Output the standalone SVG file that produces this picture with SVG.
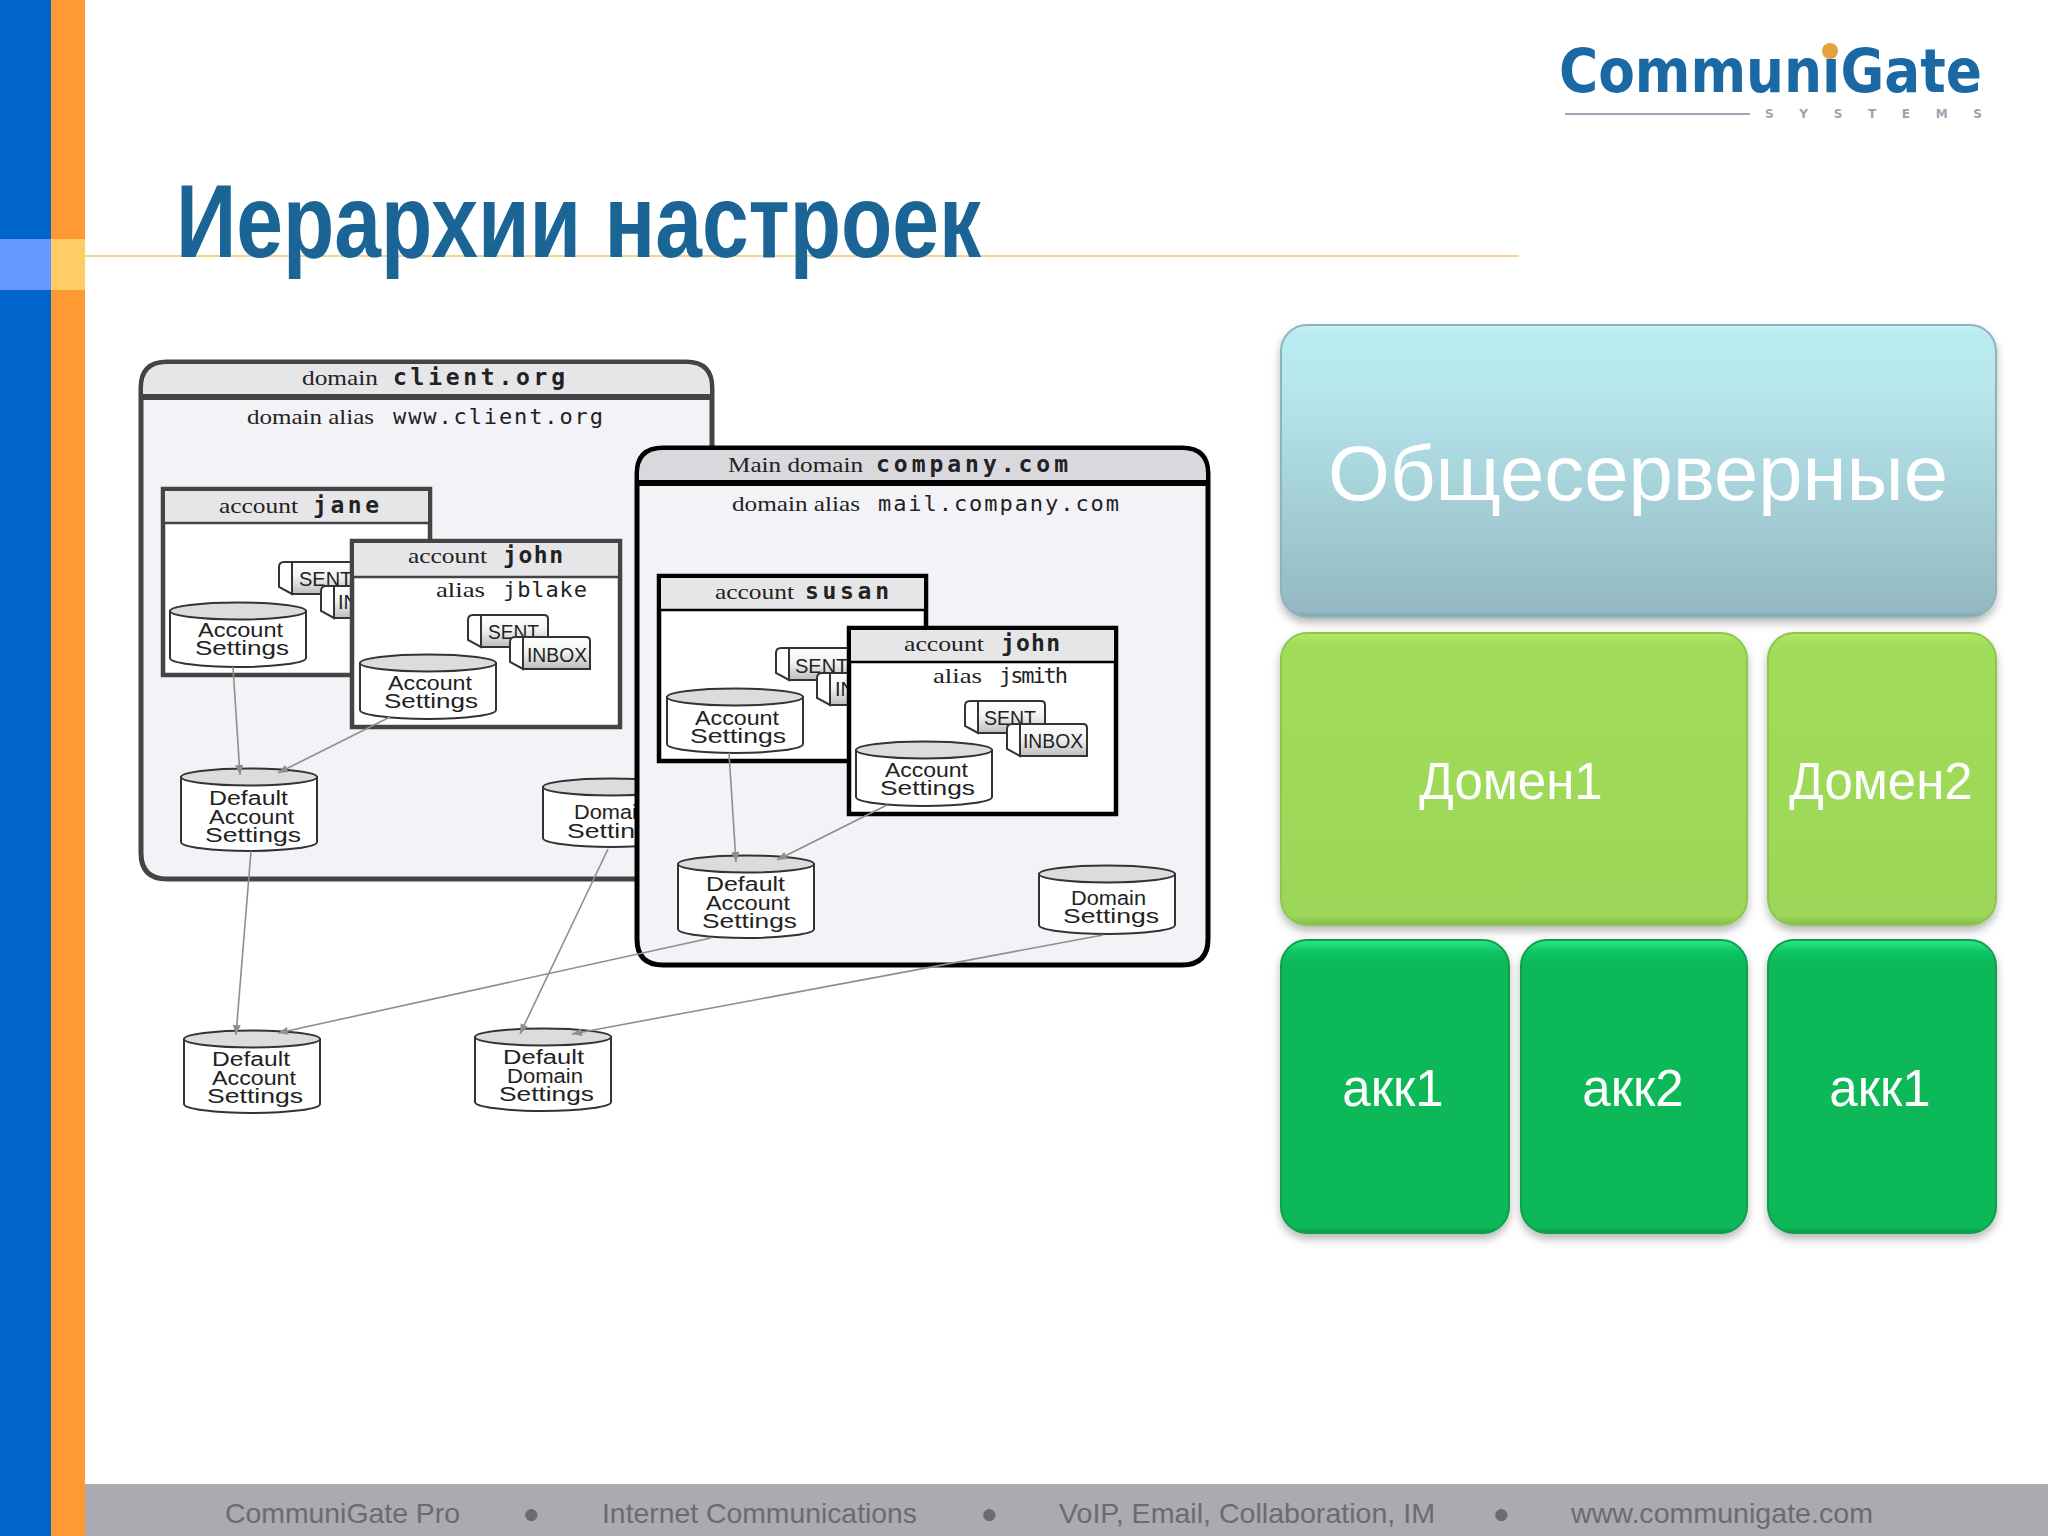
<svg xmlns="http://www.w3.org/2000/svg" width="2048" height="1536" viewBox="0 0 2048 1536">
<style>
text{font-family:"Liberation Sans",Arial,sans-serif}
.title{font-size:103px;font-weight:700;fill:#1a6496}
.foot{font-size:28px;fill:#6b6b70}
.big{font-size:78px;fill:#fff;text-anchor:middle}
.mid{font-size:51px;fill:#fff;text-anchor:middle}
.srf{font-family:"Liberation Serif",serif;font-size:22px;fill:#222}
.mono{font-family:"DejaVu Sans Mono",monospace;font-size:22px;fill:#222}
.bold{font-family:"DejaVu Sans Mono",monospace;font-size:23px;font-weight:700;fill:#222}
.lbl{font-size:20px;fill:#222}
.lc{stroke:#444}
.lk{stroke:#000}
.panel{fill:#f3f3f7;stroke-width:5}
.acct{fill:#fff;stroke-width:4.5}
.hdr{fill:#e6e6e9}
.conn line{stroke:#8e8e8e;stroke-width:1.6;marker-end:url(#arr)}
.lev{stroke-width:2;filter:url(#sh)}
</style>
<defs>
<linearGradient id="gTop" x1="0" y1="0" x2="0" y2="1"><stop offset="0" stop-color="#c8f1f3"/><stop offset=".03" stop-color="#b8ebf0"/><stop offset=".2" stop-color="#b7e8ed"/><stop offset=".98" stop-color="#94b9c3"/><stop offset="1" stop-color="#7da3ad"/></linearGradient>
<linearGradient id="gLime" x1="0" y1="0" x2="0" y2="1"><stop offset="0" stop-color="#b2ea60"/><stop offset=".04" stop-color="#a1dd5a"/><stop offset=".97" stop-color="#9bd658"/><stop offset="1" stop-color="#84bb4b"/></linearGradient>
<linearGradient id="gDark" x1="0" y1="0" x2="0" y2="1"><stop offset="0" stop-color="#2fe88c"/><stop offset=".04" stop-color="#10c563"/><stop offset=".08" stop-color="#0bb858"/><stop offset=".98" stop-color="#0bb858"/><stop offset="1" stop-color="#089a4a"/></linearGradient>
<linearGradient id="gFold" x1="0" y1="0" x2="0" y2="1"><stop offset="0" stop-color="#fff"/><stop offset=".45" stop-color="#f2f2f2"/><stop offset="1" stop-color="#bdbdbd"/></linearGradient>
<filter id="sh" x="-5%" y="-5%" width="110%" height="112%"><feDropShadow dx="0" dy="5" stdDeviation="4" flood-color="#000" flood-opacity=".28"/></filter>
<marker id="arr" viewBox="0 0 10 8" refX="10" refY="4" markerWidth="11" markerHeight="8" markerUnits="userSpaceOnUse" orient="auto"><path d="M0 0L10 4L0 8Z" fill="#8e8e8e"/></marker>
<g id="cyl65"><path d="M1 9V56A68 9 0 0 0 137 56V9Z" fill="#fff" stroke="#333" stroke-width="2"/><ellipse cx="69" cy="9" rx="68" ry="8.500" fill="#dcdcdc" stroke="#333" stroke-width="2"/></g>
<g id="cyl69"><path d="M1 9V60A68 9 0 0 0 137 60V9Z" fill="#fff" stroke="#333" stroke-width="2"/><ellipse cx="69" cy="9" rx="68" ry="8.500" fill="#dcdcdc" stroke="#333" stroke-width="2"/></g>
<g id="cyl83"><path d="M1 9V74A68 9 0 0 0 137 74V9Z" fill="#fff" stroke="#333" stroke-width="2"/><ellipse cx="69" cy="9" rx="68" ry="8.500" fill="#dcdcdc" stroke="#333" stroke-width="2"/></g>
<g id="fold"><path d="M14 1H77Q81 1 81 5V33H14Z" fill="url(#gFold)" stroke="#333" stroke-width="2"/><path d="M14 1H6Q1 1 1 6V26L14 33Z" fill="#fff" stroke="#333" stroke-width="2"/></g>
</defs>

<rect width="2048" height="1536" fill="#fff"/>
<g id="slide-frame">
<rect x="0" y="0" width="51" height="1536" fill="#0066cc"/>
<rect x="51" y="0" width="34" height="1536" fill="#ff9933"/>
<rect x="0" y="239" width="51" height="51" fill="#6699ff"/>
<rect x="51" y="239" width="34" height="51" fill="#ffcc66"/>
<rect x="85" y="255" width="1434" height="2" fill="#f4d58a"/>
<rect x="85" y="1484" width="1963" height="52" fill="#aaaab0"/>
</g>

<g id="logo">
<text x="1559" y="92" font-size="60" font-weight="700" fill="#1a69a4" style="font-family:'DejaVu Sans',sans-serif" textLength="423" lengthAdjust="spacingAndGlyphs">CommuniGate</text>
<circle cx="1830" cy="51" r="8" fill="#e2a23c"/>
<rect x="1565" y="113" width="185" height="2" fill="#9aa8b8"/>
<text x="1765" y="118" font-size="12" font-weight="700" fill="#9aa4b0" style="font-family:'DejaVu Sans',sans-serif" textLength="217" lengthAdjust="spacing">SYSTEMS</text>
</g>

<text id="title" class="title" x="176" y="257" textLength="805" lengthAdjust="spacingAndGlyphs">Иерархии настроек</text>

<g id="domain-client">
<path class="panel lc" d="M141 852V388Q141 362 167 362H686Q712 362 712 388V853Q712 879 686 879H167Q141 879 141 853Z"/>
<path class="hdr" d="M143 397V388Q143 364 167 364H686Q710 364 710 388V397Z"/>
<line class="lc" x1="141" y1="397" x2="712" y2="397" stroke-width="6"/>
<text class="srf" x="302" y="385" textLength="76" lengthAdjust="spacingAndGlyphs">domain</text>
<text class="bold" x="393" y="385" textLength="172" lengthAdjust="spacing">client.org</text>
<text class="srf" x="247" y="424" textLength="127" lengthAdjust="spacingAndGlyphs">domain alias</text>
<text class="mono" x="393" y="424" textLength="210" lengthAdjust="spacing">www.client.org</text>
</g>

<g id="account-jane">
<rect class="acct lc" x="163" y="489" width="267" height="186"/>
<rect class="hdr" x="165" y="491" width="263" height="31"/>
<line x1="163" y1="523" x2="430" y2="523" stroke="#444" stroke-width="2.500"/>
<text class="srf" x="219" y="513" textLength="79" lengthAdjust="spacingAndGlyphs">account</text>
<text class="bold" x="313" y="513" textLength="66" lengthAdjust="spacing">jane</text>
<use href="#fold" x="278" y="561"/>
<text class="lbl" x="299" y="586">SENT</text>
<use href="#fold" x="320" y="585"/>
<text class="lbl" x="338" y="609">INBOX</text>
<use href="#cyl65" x="169" y="602"/>
<text class="lbl" x="198" y="637" textLength="85" lengthAdjust="spacingAndGlyphs">Account</text>
<text class="lbl" x="195" y="655" textLength="94" lengthAdjust="spacingAndGlyphs">Settings</text>
</g>

<g id="account-john-client">
<rect class="acct lc" x="352" y="541" width="268" height="186"/>
<rect class="hdr" x="354" y="543" width="264" height="33"/>
<line x1="352" y1="577" x2="620" y2="577" stroke="#444" stroke-width="2.500"/>
<text class="srf" x="408" y="563" textLength="79" lengthAdjust="spacingAndGlyphs">account</text>
<text class="bold" x="503" y="563" textLength="60" lengthAdjust="spacing">john</text>
<text class="srf" x="436" y="597" textLength="49" lengthAdjust="spacingAndGlyphs">alias</text>
<text class="mono" x="503" y="597" textLength="84" lengthAdjust="spacing">jblake</text>
<use href="#fold" x="467" y="614"/>
<text class="lbl" x="488" y="639" textLength="51" lengthAdjust="spacingAndGlyphs">SENT</text>
<use href="#fold" x="509" y="636"/>
<text class="lbl" x="527" y="662" textLength="60" lengthAdjust="spacingAndGlyphs">INBOX</text>
<use href="#cyl65" x="359" y="654"/>
<text class="lbl" x="388" y="690" textLength="84" lengthAdjust="spacingAndGlyphs">Account</text>
<text class="lbl" x="384" y="708" textLength="94" lengthAdjust="spacingAndGlyphs">Settings</text>
</g>

<g id="default-account-client">
<use href="#cyl83" x="180" y="768"/>
<text class="lbl" x="209" y="805" textLength="79" lengthAdjust="spacingAndGlyphs">Default</text>
<text class="lbl" x="209" y="824" textLength="85" lengthAdjust="spacingAndGlyphs">Account</text>
<text class="lbl" x="205" y="842" textLength="96" lengthAdjust="spacingAndGlyphs">Settings</text>
</g>

<g id="domain-settings-client">
<use href="#cyl69" x="542" y="778"/>
<text class="lbl" x="574" y="819" textLength="75" lengthAdjust="spacingAndGlyphs">Domain</text>
<text class="lbl" x="567" y="838" textLength="96" lengthAdjust="spacingAndGlyphs">Settings</text>
</g>

<g id="domain-company">
<path class="panel lk" d="M637 939V474Q637 448 663 448H1182Q1208 448 1208 474V939Q1208 965 1182 965H663Q637 965 637 939Z"/>
<path fill="#d9d9dd" d="M639 482V474Q639 450 663 450H1182Q1206 450 1206 474V482Z"/>
<line x1="637" y1="483" x2="1208" y2="483" stroke="#000" stroke-width="6"/>
<text class="srf" x="728" y="472" textLength="135" lengthAdjust="spacingAndGlyphs">Main domain</text>
<text class="bold" x="876" y="472" textLength="192" lengthAdjust="spacing">company.com</text>
<text class="srf" x="732" y="511" textLength="128" lengthAdjust="spacingAndGlyphs">domain alias</text>
<text class="mono" x="878" y="511" textLength="241" lengthAdjust="spacing">mail.company.com</text>
</g>

<g id="account-susan">
<rect class="acct lk" x="659" y="576" width="267" height="185"/>
<rect class="hdr" x="661" y="578" width="263" height="31"/>
<line x1="659" y1="610" x2="926" y2="610" stroke="#000" stroke-width="2.500"/>
<text class="srf" x="715" y="599" textLength="79" lengthAdjust="spacingAndGlyphs">account</text>
<text class="bold" x="805" y="599" textLength="84" lengthAdjust="spacing">susan</text>
<use href="#fold" x="775" y="647"/>
<text class="lbl" x="795" y="673">SENT</text>
<use href="#fold" x="816" y="672"/>
<text class="lbl" x="835" y="696">INBOX</text>
<use href="#cyl65" x="666" y="688"/>
<text class="lbl" x="695" y="725" textLength="84" lengthAdjust="spacingAndGlyphs">Account</text>
<text class="lbl" x="690" y="743" textLength="96" lengthAdjust="spacingAndGlyphs">Settings</text>
</g>

<g id="account-john-company">
<rect class="acct lk" x="849" y="628" width="267" height="186"/>
<rect class="hdr" x="851" y="630" width="263" height="31"/>
<line x1="849" y1="662" x2="1116" y2="662" stroke="#000" stroke-width="2.500"/>
<text class="srf" x="904" y="651" textLength="80" lengthAdjust="spacingAndGlyphs">account</text>
<text class="bold" x="1001" y="651" textLength="59" lengthAdjust="spacing">john</text>
<text class="srf" x="933" y="683" textLength="49" lengthAdjust="spacingAndGlyphs">alias</text>
<text class="mono" x="999" y="683" textLength="69" lengthAdjust="spacing">jsmith</text>
<use href="#fold" x="964" y="700"/>
<text class="lbl" x="984" y="725" textLength="52" lengthAdjust="spacingAndGlyphs">SENT</text>
<use href="#fold" x="1006" y="723"/>
<text class="lbl" x="1023" y="748" textLength="60" lengthAdjust="spacingAndGlyphs">INBOX</text>
<use href="#cyl65" x="855" y="741"/>
<text class="lbl" x="885" y="777" textLength="83" lengthAdjust="spacingAndGlyphs">Account</text>
<text class="lbl" x="880" y="795" textLength="95" lengthAdjust="spacingAndGlyphs">Settings</text>
</g>

<g id="default-account-company">
<use href="#cyl83" x="677" y="855"/>
<text class="lbl" x="706" y="891" textLength="79" lengthAdjust="spacingAndGlyphs">Default</text>
<text class="lbl" x="706" y="910" textLength="84" lengthAdjust="spacingAndGlyphs">Account</text>
<text class="lbl" x="702" y="928" textLength="95" lengthAdjust="spacingAndGlyphs">Settings</text>
</g>

<g id="domain-settings-company">
<use href="#cyl69" x="1038" y="865"/>
<text class="lbl" x="1071" y="905" textLength="75" lengthAdjust="spacingAndGlyphs">Domain</text>
<text class="lbl" x="1063" y="923" textLength="96" lengthAdjust="spacingAndGlyphs">Settings</text>
</g>

<g id="default-account-server">
<use href="#cyl83" x="183" y="1030"/>
<text class="lbl" x="212" y="1066" textLength="78" lengthAdjust="spacingAndGlyphs">Default</text>
<text class="lbl" x="212" y="1085" textLength="84" lengthAdjust="spacingAndGlyphs">Account</text>
<text class="lbl" x="207" y="1103" textLength="96" lengthAdjust="spacingAndGlyphs">Settings</text>
</g>

<g id="default-domain-server">
<use href="#cyl83" x="474" y="1028"/>
<text class="lbl" x="503" y="1064" textLength="81" lengthAdjust="spacingAndGlyphs">Default</text>
<text class="lbl" x="507" y="1083" textLength="76" lengthAdjust="spacingAndGlyphs">Domain</text>
<text class="lbl" x="499" y="1101" textLength="95" lengthAdjust="spacingAndGlyphs">Settings</text>
</g>

<g id="connectors" class="conn">
<line x1="233" y1="667" x2="240" y2="775"/>
<line x1="390" y1="717" x2="278" y2="773"/>
<line x1="251" y1="851" x2="236" y2="1035"/>
<line x1="608" y1="849" x2="520" y2="1034"/>
<line x1="729" y1="753" x2="736" y2="862"/>
<line x1="887" y1="805" x2="777" y2="860"/>
<line x1="711" y1="938" x2="278" y2="1033"/>
<line x1="1103" y1="935" x2="572" y2="1034"/>
</g>

<g id="level-server">
<rect class="lev" x="1281" y="325" width="715" height="292" rx="26" fill="url(#gTop)" stroke="#8fb3bb"/>
<text class="big" x="1638" y="500" textLength="620" lengthAdjust="spacingAndGlyphs">Общесерверные</text>
</g>
<g id="level-domain1">
<rect class="lev" x="1281" y="633" width="466" height="292" rx="26" fill="url(#gLime)" stroke="#8cc650"/>
<text class="mid" x="1511" y="799">Домен1</text>
</g>
<g id="level-domain2">
<rect class="lev" x="1768" y="633" width="228" height="292" rx="26" fill="url(#gLime)" stroke="#8cc650"/>
<text class="mid" x="1881" y="799">Домен2</text>
</g>
<g id="level-acc1">
<rect class="lev" x="1281" y="940" width="228" height="293" rx="26" fill="url(#gDark)" stroke="#0a9f4e"/>
<text class="mid" x="1393" y="1106">акк1</text>
</g>
<g id="level-acc2">
<rect class="lev" x="1521" y="940" width="226" height="293" rx="26" fill="url(#gDark)" stroke="#0a9f4e"/>
<text class="mid" x="1633" y="1106">акк2</text>
</g>
<g id="level-acc3">
<rect class="lev" x="1768" y="940" width="228" height="293" rx="26" fill="url(#gDark)" stroke="#0a9f4e"/>
<text class="mid" x="1880" y="1106">акк1</text>
</g>

<g id="footer">
<text class="foot" x="225" y="1523" textLength="235" lengthAdjust="spacingAndGlyphs">CommuniGate Pro</text>
<text class="foot" x="523" y="1523">●</text>
<text class="foot" x="602" y="1523" textLength="315" lengthAdjust="spacingAndGlyphs">Internet Communications</text>
<text class="foot" x="981" y="1523">●</text>
<text class="foot" x="1059" y="1523" textLength="376" lengthAdjust="spacingAndGlyphs">VoIP, Email, Collaboration, IM</text>
<text class="foot" x="1493" y="1523">●</text>
<text class="foot" x="1571" y="1523" textLength="302" lengthAdjust="spacingAndGlyphs">www.communigate.com</text>
</g>
</svg>
